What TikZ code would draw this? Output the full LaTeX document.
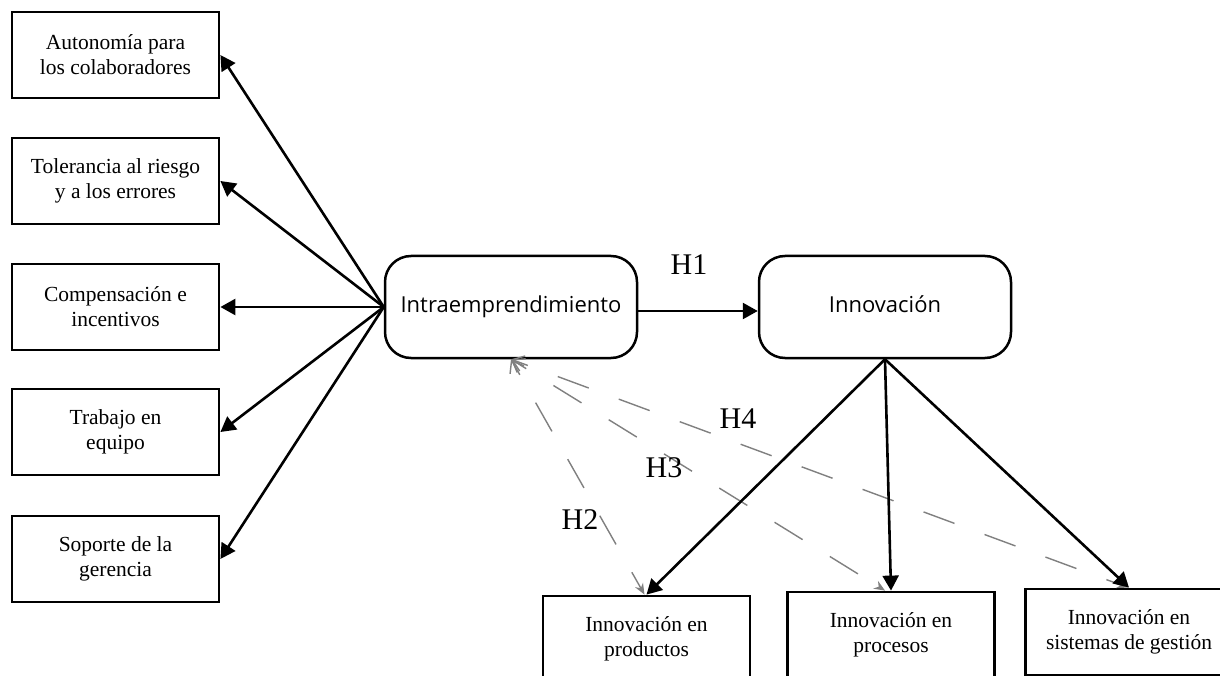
\documentclass[tikz,border=0pt]{standalone}
\usepackage{fontspec}
\setmainfont{Liberation Serif}
\newfontfamily\boxsans{Open Sans}
\usetikzlibrary{arrows.meta}
\begin{document}
\begin{tikzpicture}[x=1pt,y=-1pt,
  lbox/.style={draw, line width=2.8pt, minimum width=207pt, minimum height=86pt, align=center, inner sep=0pt,
    font=\fontsize{21.5}{25}\selectfont},
  rbox/.style={draw, line width=2.5pt, rounded corners=26pt, minimum width=252pt, minimum height=102pt, inner sep=0pt,
    font=\boxsans\fontsize{22}{26}\selectfont},
  blk/.style={line width=2.6pt, -{Triangle[length=15pt,width=16pt]}},
  dsh/.style={draw=gray, line width=1.4pt, dash pattern=on 33pt off 32pt, dash phase=17pt,
    {Straight Barb[length=11pt,width=16pt,line width=1.4pt]}-{Stealth[length=11pt,width=9pt]}},
  hl/.style={font=\fontsize{30}{30}\selectfont, inner sep=0pt}
]
\useasboundingbox (0,0) rectangle (1220,676);
\clip (0,0) rectangle (1220,676);
\fill[white] (0,0) rectangle (1220,676);

\node[lbox] (a1) at (115.5,55) {Autonomía para\\los colaboradores};
\node[lbox] (a2) at (115.5,181) {Tolerancia al riesgo\\y a los errores};
\node[lbox] (a3) at (115.5,307) {Compensación e\\incentivos};
\node[lbox] (a4) at (115.5,432) {Trabajo en\\equipo};
\node[lbox] (a5) at (115.5,559) {Soporte de la\\gerencia};

\node[rbox] (intra) at (511,307) {\raisebox{6pt}{Intraemprendimiento}};
\node[rbox] (innov) at (885,307) {\raisebox{6pt}{Innovación}};

\node[lbox] (prod) at (646.5,639) {Innovación en\\productos};
\node[lbox] (proc) at (891,635) {Innovación en\\procesos};
\node[lbox] (sist) at (1129,632) {Innovación en\\sistemas de gestión};

\foreach \t in {a1,a2,a3,a4,a5}
  \draw[blk] (intra.west) -- (\t.east);

\draw[blk] ([yshift=-4pt]intra.east) -- ([yshift=-4pt]innov.west);

\draw[dsh] (intra.south) -- ([xshift=-2pt]prod.north);
\draw[dsh] (intra.south) -- ([xshift=-6pt]proc.north);
\draw[dsh] (intra.south) -- ([xshift=-1pt]sist.north);

\draw[blk] (innov.south) -- (prod.north);
\draw[blk] (innov.south) -- (proc.north);
\draw[blk] (innov.south) -- (sist.north);

\node[hl] (h1) at (689,265) {H1};
\node[hl] (h2) at (580,520) {H2};
\node[hl] (h3) at (664,468) {H3};
\node[hl] (h4) at (738,419) {H4};
\end{tikzpicture}
\end{document}
